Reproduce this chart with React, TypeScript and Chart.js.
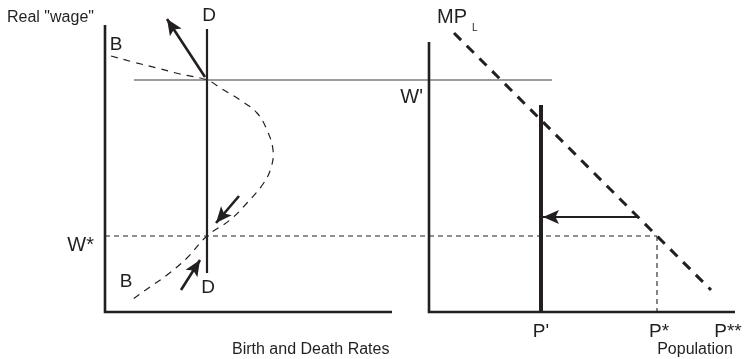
import React, { useEffect, useRef } from "react";
import { Chart, registerables } from "chart.js";

Chart.register(...registerables);

// Units: left panel x = birth/death rate, right panel x = population, y = real wage
const birthRate = [0.6, 2.8, 5.2, 7.5, 10.2, 11.7, 13.5, 15.2, 16.2, 16.8, 16.6, 15.8, 14.2, 12.5, 10.2, 8.2, 6.2, 4.5, 2.5];
const birthWage = [25.6, 25.0, 24.4, 23.8, 23.2, 22.3, 21.2, 19.9, 18.2, 16.2, 14.4, 12.8, 10.9, 9.2, 7.6, 5.4, 3.7, 2.5, 1.1];

const deathRate = 10.2;
const deathWage = [28.3, 3.9];

const wPrime = 23.2;
const wStar = 7.6;
const wPrimeSpanRate = [2.9, 44.7];
const wStarSpanRate = [0, 55.2];

const pPrime = 11.2;
const pPrimeTop = 20.7;
const pStar = 22.8;
const pStarStar = 29.9;

const mplPop = [2.5, 22.8, 28.2];
const mplWage = [27.9, 7.6, 2.2];

const leftAxisTop = 28.7;
const leftAxisEnd = 28.7;
const rightAxisTop = 27.0;
const rightAxisEnd = 30.6;

// arrows: [fromX, fromY, toX, toY]
const arrowUpLeft = [10.0, 23.5, 6.2, 29.3];
const arrowDownMid = [13.4, 11.6, 11.1, 8.9];
const arrowUpLow = [7.6, 2.2, 9.5, 5.2];
const arrowPop = [20.8, 9.5, 11.4, 9.5];

type Lbl = { text: string; axis: "rate" | "pop"; x: number; y: number; size: number; align: CanvasTextAlign };
const labels: Lbl[] = [
  { text: 'Real "wage"', axis: "rate", x: -9.8, y: 29.4, size: 16, align: "left" },
  { text: "D", axis: "rate", x: 10.4, y: 29.6, size: 19, align: "center" },
  { text: "D", axis: "rate", x: 10.3, y: 2.4, size: 19, align: "center" },
  { text: "B", axis: "rate", x: 1.1, y: 26.7, size: 19, align: "center" },
  { text: "B", axis: "rate", x: 2.1, y: 3.0, size: 19, align: "center" },
  { text: "W*", axis: "rate", x: -1.1, y: 6.7, size: 20, align: "right" },
  { text: "W'", axis: "pop", x: -0.6, y: 21.5, size: 20, align: "right" },
  { text: "MP", axis: "pop", x: 0.8, y: 29.5, size: 20, align: "left" },
  { text: "L", axis: "pop", x: 4.3, y: 28.4, size: 10, align: "left" },
  { text: "P'", axis: "pop", x: pPrime, y: -2.0, size: 19, align: "center" },
  { text: "P*", axis: "pop", x: 23.0, y: -2.0, size: 19, align: "center" },
  { text: "P**", axis: "pop", x: pStarStar, y: -2.0, size: 19, align: "center" },
  { text: "Population", axis: "pop", x: 26.6, y: -3.8, size: 16, align: "center" },
  { text: "Birth and Death Rates", axis: "rate", x: 12.7, y: -3.8, size: 16, align: "left" },
];

const INK = "#231f20";

const pts = (xs: number[], ys: number[]) => xs.map((x, i) => ({ x, y: ys[i] }));

const overlayPlugin = {
  id: "overlay",
  afterDatasetsDraw(chart: any) {
    const ctx = chart.ctx;
    // arrowheads
    chart.data.datasets.forEach((ds: any, i: number) => {
      if (!ds.arrow) return;
      const meta = chart.getDatasetMeta(i);
      const els = meta.data;
      const a = els[els.length - 2];
      const b = els[els.length - 1];
      const ang = Math.atan2(b.y - a.y, b.x - a.x);
      const len = 16;
      const hw = 7;
      const c = Math.cos(ang);
      const s = Math.sin(ang);
      ctx.save();
      ctx.fillStyle = INK;
      ctx.beginPath();
      ctx.moveTo(b.x, b.y);
      ctx.lineTo(b.x - len * c + hw * s, b.y - len * s - hw * c);
      ctx.lineTo(b.x - len * 0.78 * c, b.y - len * 0.78 * s);
      ctx.lineTo(b.x - len * c - hw * s, b.y - len * s + hw * c);
      ctx.closePath();
      ctx.fill();
      ctx.restore();
    });
    // labels
    const ys = chart.scales.y;
    ctx.save();
    ctx.fillStyle = INK;
    ctx.textBaseline = "middle";
    labels.forEach((l) => {
      const xs = chart.scales[l.axis];
      ctx.font = `${l.size}px "Liberation Sans", Arial, sans-serif`;
      ctx.textAlign = l.align;
      ctx.fillText(l.text, xs.getPixelForValue(l.x), ys.getPixelForValue(l.y));
    });
    ctx.restore();
  },
};

export default function App() {
  const ref = useRef<HTMLCanvasElement | null>(null);
  useEffect(() => {
    if (!ref.current) return;
    const line = (data: any[], opts: any = {}) => ({
      data,
      showLine: true,
      pointRadius: 0,
      borderColor: INK,
      borderWidth: 2,
      fill: false,
      tension: 0,
      xAxisID: "rate",
      clip: false,
      ...opts,
    });
    const chart = new Chart(ref.current, {
      type: "scatter",
      data: {
        datasets: [
          // left axes
          line(pts([0, 0, leftAxisEnd], [leftAxisTop, 0, 0]), { borderWidth: 2.6, borderJoinStyle: "miter" }),
          // right axes
          line(pts([0, 0, rightAxisEnd], [rightAxisTop, 0, 0]), { xAxisID: "pop", borderWidth: 2.6, borderJoinStyle: "miter" }),
          // W' line
          line(pts(wPrimeSpanRate, [wPrime, wPrime]), { borderWidth: 1.2, borderColor: "#3a3a3a" }),
          // W* dashed
          line(pts(wStarSpanRate, [wStar, wStar]), { borderWidth: 1.1, borderDash: [5, 4] }),
          // P* dashed vertical
          line(pts([pStar, pStar], [wStar, 0]), { xAxisID: "pop", borderWidth: 1.1, borderDash: [5, 4] }),
          // Birth curve
          line(pts(birthRate, birthWage), { borderWidth: 1.2, borderDash: [7, 6], tension: 0.4 }),
          // Death line
          line(pts([deathRate, deathRate], deathWage), { borderWidth: 2.2 }),
          // MPL
          line(pts(mplPop, mplWage), { xAxisID: "pop", borderWidth: 3, borderDash: [10, 8] }),
          // P' line
          line(pts([pPrime, pPrime], [pPrimeTop, 0]), { xAxisID: "pop", borderWidth: 4 }),
          // arrows
          line(pts([arrowUpLeft[0], arrowUpLeft[2]], [arrowUpLeft[1], arrowUpLeft[3]]), { borderWidth: 2.6, arrow: true }),
          line(pts([arrowDownMid[0], arrowDownMid[2]], [arrowDownMid[1], arrowDownMid[3]]), { borderWidth: 2.6, arrow: true }),
          line(pts([arrowUpLow[0], arrowUpLow[2]], [arrowUpLow[1], arrowUpLow[3]]), { borderWidth: 2.6, arrow: true }),
          line(pts([arrowPop[0], arrowPop[2]], [arrowPop[1], arrowPop[3]]), { xAxisID: "pop", borderWidth: 2.2, arrow: true }),
        ] as any,
      },
      options: {
        animation: false,
        responsive: false,
        devicePixelRatio: 1,
        layout: { padding: 0 },
        plugins: { legend: { display: false }, tooltip: { enabled: false } },
        events: [],
        scales: {
          rate: { type: "linear", axis: "x", min: -10.5, max: 64.2, display: false },
          pop: { type: "linear", axis: "x", min: -42.9, max: 31.8, display: false },
          y: { type: "linear", min: -4.7, max: 31.2, display: false },
        },
      } as any,
      plugins: [overlayPlugin],
    });
    return () => chart.destroy();
  }, []);
  return (
    <div style={{ position: "absolute", left: 0, top: 0, width: 747, height: 359, background: "#fff" }}>
      <canvas ref={ref} width={747} height={359} />
    </div>
  );
}
